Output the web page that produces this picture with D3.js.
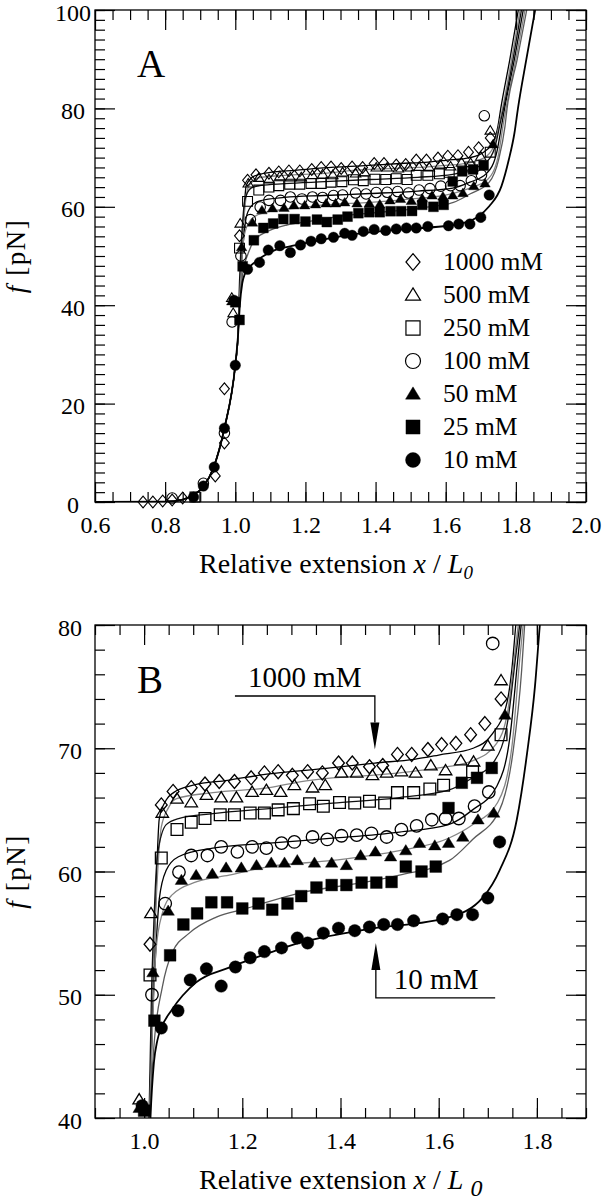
<!DOCTYPE html>
<html>
<head>
<meta charset="utf-8">
<script src="https://cdnjs.cloudflare.com/ajax/libs/d3/7.8.5/d3.min.js"></script>
<style>
  body { margin: 0; background: #fff; }
  svg { display: block; font-family: "Liberation Serif", "Times New Roman", serif; }
</style>
</head>
<body>
<svg id="chart" width="608" height="1200"></svg>
<script>
// salt concentrations, in legend order
const concentrations = ["1000 mM", "500 mM", "250 mM", "100 mM", "50 mM", "25 mM", "10 mM"];

// measured points [x / L0, f in pN]
const pts1000 = [[0.737,0],[0.765,0],[0.793,0.2],[0.82,0.4],[0.85,0.8],[0.943,5.3],[0.969,12.0],[0.969,23.0],[1.012,54.1],[1.035,65.4],[1.059,66.5],[1.096,66.8],[1.124,67.1],[1.153,67.3],[1.184,67.3],[1.218,67.6],[1.245,68.0],[1.273,68.1],[1.302,67.8],[1.333,68.1],[1.363,68.0],[1.396,68.8],[1.424,68.8],[1.459,68.5],[1.486,68.6],[1.516,69.5],[1.545,69.5],[1.578,69.9],[1.606,70.3],[1.635,70.4],[1.665,71.1],[1.694,72.0],[1.727,74.0]];
const pts500 = [[0.99,41.5],[0.994,38.4],[1.014,56.6],[1.037,64.75],[1.067,65.9],[1.096,65.6],[1.127,66.2],[1.157,66.0],[1.188,66.0],[1.220,66.45],[1.249,66.6],[1.278,66.45],[1.306,67.0],[1.343,66.8],[1.369,67.0],[1.402,68.0],[1.433,68.0],[1.465,67.8],[1.494,68.0],[1.524,68.1],[1.553,68.0],[1.584,68.6],[1.614,68.2],[1.645,69.0],[1.671,68.9],[1.700,70.2],[1.727,75.5]];
const pts250 = [[0.885,1.0],[1.012,51.6],[1.035,61.1],[1.067,63.4],[1.096,64.0],[1.124,64.3],[1.155,64.6],[1.184,64.6],[1.216,64.75],[1.245,64.75],[1.273,65.0],[1.304,65.1],[1.337,65.5],[1.365,65.3],[1.398,65.6],[1.429,65.55],[1.459,65.7],[1.490,65.55],[1.516,66.4],[1.549,66.4],[1.582,66.7],[1.610,67.0],[1.669,68.1],[1.727,71.1]];
const pts100 = [[0.82,0.8],[0.909,3.8],[0.969,14.0],[0.991,36.6],[1.016,50.0],[1.043,57.4],[1.071,59.95],[1.096,61.3],[1.129,61.3],[1.157,62.0],[1.190,61.6],[1.220,62.0],[1.249,61.9],[1.280,62.3],[1.306,62.4],[1.343,62.8],[1.373,62.6],[1.402,62.9],[1.433,62.95],[1.463,63.1],[1.494,62.8],[1.524,63.4],[1.555,63.7],[1.586,64.2],[1.614,64.3],[1.641,64.3],[1.673,65.3],[1.702,66.45],[1.710,78.5]];
const pts50 = [[0.99,40.8],[1.018,51.8],[1.049,56.8],[1.076,59.3],[1.106,59.7],[1.139,59.8],[1.167,60.3],[1.198,60.3],[1.229,60.5],[1.259,60.7],[1.286,60.7],[1.312,60.9],[1.347,60.7],[1.382,60.7],[1.412,60.5],[1.441,61.3],[1.471,61.6],[1.502,61.2],[1.533,61.7],[1.561,62.3],[1.592,62.1],[1.620,62.3],[1.649,62.8],[1.680,64.2],[1.712,64.75],[1.735,72.7]];
const pts25 = [[1.0,40.6],[1.012,37.0],[1.021,47.9],[1.053,53.2],[1.080,55.7],[1.108,56.6],[1.137,57.5],[1.169,57.5],[1.200,57.0],[1.233,57.4],[1.261,56.9],[1.292,57.4],[1.320,58.0],[1.351,58.7],[1.382,58.9],[1.412,58.9],[1.443,59.1],[1.473,59.1],[1.504,59.15],[1.533,60.4],[1.565,60.0],[1.594,60.4],[1.620,65.15],[1.647,67.2],[1.678,67.6],[1.708,68.4]];
const pts10 = [[0.881,1.0],[0.909,3.25],[0.94,7.1],[0.969,15.0],[1.0,27.8],[0.996,41.0],[1.035,47.3],[1.069,48.7],[1.094,51.2],[1.127,52.1],[1.157,50.7],[1.186,52.25],[1.216,53.0],[1.245,53.5],[1.280,53.8],[1.312,54.6],[1.333,54.2],[1.365,55.0],[1.396,55.4],[1.429,55.2],[1.459,55.5],[1.488,55.7],[1.516,55.7],[1.549,56.0],[1.608,56.15],[1.637,56.5],[1.669,56.5],[1.700,57.85],[1.724,62.4]];

// fitted curves; the low branch is shared by all
const fitLow = [[0.6,0],[0.8,0.05],[0.85,0.5],[0.88,1.4],[0.91,3.2],[0.937,6.8],[0.969,15],[1.0,27.8],[1.008,34]];
const fit1000 = [[1.012,40],[1.018,50],[1.024,58],[1.031,64.3],[1.045,65.8],[1.06,66.4],[1.1,67.0],[1.17,67.4],[1.25,67.9],[1.38,68.4],[1.47,68.8],[1.55,69.1],[1.6,69.45],[1.67,70.0],[1.71,71.2],[1.739,73.7],[1.749,76.4],[1.757,80],[1.783,90],[1.807,100]];
const fit500 = [[1.011,40],[1.017,50],[1.025,58],[1.035,63.6],[1.05,65.2],[1.065,65.9],[1.14,66.4],[1.255,66.8],[1.32,67.3],[1.52,68.0],[1.6,68.4],[1.67,69.0],[1.718,70.4],[1.741,73.1],[1.753,77.0],[1.762,80],[1.788,90],[1.812,100]];
const fit250 = [[1.010,40],[1.015,50],[1.020,56],[1.027,61.3],[1.045,63.8],[1.07,64.3],[1.14,64.7],[1.255,65.1],[1.384,65.55],[1.52,66.0],[1.62,66.6],[1.669,67.6],[1.714,69.0],[1.741,72.3],[1.757,77.5],[1.765,80],[1.792,90],[1.816,100]];
const fit100 = [[1.011,40],[1.017,48],[1.023,53],[1.031,57.8],[1.045,60.1],[1.07,61.2],[1.14,61.9],[1.255,62.3],[1.384,62.7],[1.52,63.2],[1.62,63.8],[1.669,65.0],[1.718,66.9],[1.745,70.9],[1.761,77.2],[1.768,80],[1.796,90],[1.821,100]];
const fit50 = [[1.011,40],[1.016,46],[1.024,53.5],[1.037,56.6],[1.057,58.1],[1.106,59.15],[1.173,59.7],[1.255,60.4],[1.384,60.9],[1.52,61.7],[1.62,62.7],[1.669,63.8],[1.72,65.6],[1.749,70.1],[1.765,77.2],[1.772,80],[1.80,90],[1.826,100]];
const fit25 = [[1.012,40],[1.02,45.8],[1.037,50.6],[1.057,53.4],[1.092,55.0],[1.147,56.3],[1.208,57.0],[1.316,58.25],[1.453,59.15],[1.52,59.7],[1.622,60.9],[1.669,62.6],[1.724,65.0],[1.751,69.6],[1.769,76.35],[1.775,80],[1.804,90],[1.831,100]];
const fit10 = [[1.013,40],[1.02,44.5],[1.027,46.3],[1.035,47.3],[1.057,48.8],[1.106,51.0],[1.173,52.2],[1.255,53.4],[1.316,54.2],[1.453,55.3],[1.622,56.3],[1.69,57.9],[1.724,60.1],[1.759,64.2],[1.78,69.6],[1.796,75.0],[1.806,80],[1.83,90],[1.855,100]];

// axis ticks
const xTicksA = [0.6, 0.8, 1.0, 1.2, 1.4, 1.6, 1.8, 2.0];
const yTicksA = [0, 20, 40, 60, 80, 100];
const xTicksB = [1.0, 1.2, 1.4, 1.6, 1.8];
const yTicksB = [40, 50, 60, 70, 80];

// arrows in panel B: [label, tip x, tip f, elbow f, tail x]
const arrowsB = [["1000 mM", 1.470, 69.9, 74.24, 1.185], ["10 mM", 1.472, 54.2, 49.74, 1.715]];

const seriesPts = [pts1000, pts500, pts250, pts100, pts50, pts25, pts10];
const seriesFit = [fit1000, fit500, fit250, fit100, fit50, fit25, fit10];
const symbols = ["diamond", "triangle", "square", "circle", "triangle", "square", "circle"];
const filled = [false, false, false, false, true, true, true];
const fitColors = ["#000", "#858585", "#111", "#000", "#858585", "#5a5a5a", "#000"];
const fitWidths = [1.3, 1.3, 1.3, 1.3, 1.3, 1.3, 1.8];

const svg = d3.select("#chart");
const L = 95, R = 586;

function markerPath(kind, s) {
  if (kind === "diamond") {
    const w = s * 0.47, h = s * 0.56;
    return `M0,${-h}L${w},0L0,${h}L${-w},0Z`;
  }
  if (kind === "triangle") {
    const w = s * 0.5, h = s * 0.82;
    return `M0,${-h * 0.58}L${w},${h * 0.42}L${-w},${h * 0.42}Z`;
  }
  if (kind === "square") {
    const a = s * 0.47;
    return `M${-a},${-a}H${a}V${a}H${-a}Z`;
  }
  const r = s * 0.5;
  return `M${r},0A${r},${r} 0 1,1 ${-r},0A${r},${r} 0 1,1 ${r},0Z`;
}

function steps(a, b, step) {
  const n = Math.round((b - a) / step);
  return d3.range(n + 1).map(i => +(a + i * step).toFixed(4));
}

function drawPanel(p) {
  const g = svg.append("g");
  const x = d3.scaleLinear(p.xDomain, [L, R]);
  const y = d3.scaleLinear(p.yDomain, [p.bottom, p.top]);

  svg.append("clipPath").attr("id", "clip" + p.name)
    .append("rect").attr("x", L).attr("y", p.top).attr("width", R - L).attr("height", p.bottom - p.top);

  const line = d3.line().x(d => x(d[0])).y(d => y(d[1])).curve(d3.curveMonotoneX);
  g.append("g").attr("clip-path", `url(#clip${p.name})`)
    .selectAll("path").data(seriesFit).join("path")
    .attr("d", d => line(fitLow.concat(d)))
    .attr("fill", "none")
    .attr("stroke", (d, i) => fitColors[i])
    .attr("stroke-width", (d, i) => fitWidths[i]);

  seriesPts.forEach((pts, i) => {
    const inside = pts.filter(d => d[0] >= p.xDomain[0] && d[0] <= p.xDomain[1] &&
                                    d[1] >= p.yDomain[0] - 0.6 && d[1] <= p.yDomain[1]);
    g.append("g").selectAll("path").data(inside).join("path")
      .attr("transform", d => `translate(${x(d[0])},${y(d[1])})`)
      .attr("d", markerPath(symbols[i], p.ms))
      .attr("fill", filled[i] ? "#000" : "none")
      .attr("stroke", "#000")
      .attr("stroke-width", filled[i] ? 0.4 : p.sw);
  });

  const ax = (axis, tx, ty) => {
    const a = g.append("g").attr("transform", `translate(${tx},${ty})`).call(axis);
    a.select(".domain").remove();
    a.attr("font-family", null).attr("font-size", 24);
    a.selectAll(".tick line").attr("stroke", "#000").attr("stroke-width", 1.2);
    a.selectAll(".tick text").attr("fill", "#000");
    return a;
  };
  const fx = d3.format(".1f");
  ax(d3.axisBottom(x).tickValues(p.xMinor).tickSize(-10).tickFormat(""), 0, p.bottom);
  ax(d3.axisTop(x).tickValues(p.xMinor).tickSize(-10).tickFormat(""), 0, p.top);
  ax(d3.axisBottom(x).tickValues(p.xMajor).tickSize(-20).tickPadding(14).tickFormat(fx), 0, p.bottom);
  ax(d3.axisTop(x).tickValues(p.xMajor).tickSize(-20).tickFormat(""), 0, p.top);
  ax(d3.axisLeft(y).tickValues(p.yMinor).tickSize(-10).tickFormat(""), L, 0);
  ax(d3.axisRight(y).tickValues(p.yMinor).tickSize(-10).tickFormat(""), R, 0);
  ax(d3.axisLeft(y).tickValues(p.yMajor).tickSize(-20).tickFormat(d3.format("d")), L, 0)
    .selectAll(".tick text").attr("x", p.yLabelX - L).attr("dy", "0.42em").attr("text-anchor", "middle");
  ax(d3.axisRight(y).tickValues(p.yMajor).tickSize(-20).tickFormat(""), R, 0);

  g.append("rect").attr("x", L).attr("y", p.top).attr("width", R - L).attr("height", p.bottom - p.top)
    .attr("fill", "none").attr("stroke", "#000").attr("stroke-width", 1.3);

  // panel letter
  g.append("text").attr("x", 137).attr("y", p.top + p.letterDy).attr("font-size", 39).text(p.name);

  // y label
  const yl = g.append("text")
    .attr("transform", `translate(25,${(p.top + p.bottom) / 2}) rotate(-90)`)
    .attr("text-anchor", "middle").attr("font-size", 27).attr("letter-spacing", 1.5);
  yl.append("tspan").attr("font-style", "italic").text("f");
  yl.append("tspan").text(" [pN]");

  // x label
  const xl = g.append("text").attr("x", 199).attr("y", p.bottom + 71).attr("font-size", 28);
  xl.append("tspan").text("Relative extension ");
  xl.append("tspan").attr("font-style", "italic").text("x");
  xl.append("tspan").text(" / ");
  xl.append("tspan").attr("font-style", "italic").text("L");
  xl.append("tspan").attr("font-style", "italic").attr("font-size", p.subSize)
    .attr("dx", p.subDx).attr("dy", p.subDy).text("0");

  return { g, x, y };
}

// ---- panel A
const A = drawPanel({
  name: "A", xDomain: [0.6, 2.0], yDomain: [0, 100], top: 10, bottom: 502,
  xMajor: xTicksA, xMinor: steps(0.6, 2.0, 0.05), yMajor: yTicksA, yMinor: steps(0, 100, 2),
  ms: 10.5, sw: 1.1, yLabelX: 73, letterDy: 67, subSize: 19, subDx: 0, subDy: 6
});

const legend = A.g.append("g");
concentrations.forEach((c, i) => {
  const yy = 262 + i * 33;
  legend.append("path")
    .attr("transform", `translate(413,${yy})`)
    .attr("d", markerPath(symbols[i], 15))
    .attr("fill", filled[i] ? "#000" : "none")
    .attr("stroke", "#000").attr("stroke-width", filled[i] ? 0.4 : 1.2);
  legend.append("text").attr("x", 443).attr("y", yy).attr("dy", "0.33em")
    .attr("font-size", 25.5).text(c);
});

// ---- panel B
const B = drawPanel({
  name: "B", xDomain: [0.9, 1.9], yDomain: [40, 80], top: 625, bottom: 1118,
  xMajor: xTicksB, xMinor: steps(0.9, 1.9, 0.05), yMajor: yTicksB, yMinor: steps(40, 80, 2),
  ms: 12.5, sw: 1.3, yLabelX: 70, letterDy: 68, subSize: 24, subDx: 7, subDy: 7
});

arrowsB.forEach(([label, tx, tf, ef, tailx]) => {
  const X = B.x(tx), Ytip = B.y(tf), Yel = B.y(ef), Xt = B.x(tailx);
  const dir = Ytip > Yel ? 1 : -1;      // 1: arrow points down
  const head = 27, hw = 4.5;
  const neck = Ytip - dir * head;
  B.g.append("path")
    .attr("d", `M${Xt},${Yel}H${X}V${neck}`)
    .attr("fill", "none").attr("stroke", "#000").attr("stroke-width", 1.3);
  B.g.append("path")
    .attr("d", `M${X - hw},${neck}L${X + hw},${neck}L${X},${Ytip}Z`)
    .attr("fill", "#000");
  const tx0 = dir === 1 ? Xt + 13 : X + 18;
  B.g.append("text").attr("x", tx0).attr("y", Yel - 9).attr("font-size", 29).text(label);
});
</script>
</body>
</html>
